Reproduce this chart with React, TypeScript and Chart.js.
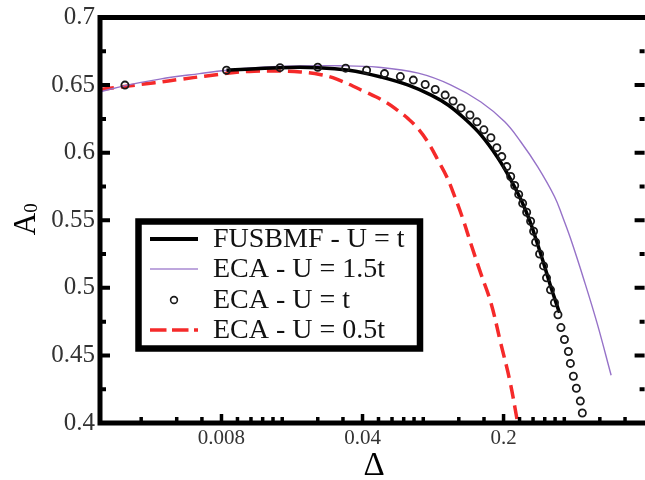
import React, { useEffect, useRef } from 'react';
import { Chart, registerables } from 'chart.js';

Chart.register(...registerables);

// ---- data ----
const fusbmfX = [0.00847, 0.0156, 0.024, 0.0342, 0.0497, 0.0675, 0.0876, 0.1062, 0.1288, 0.1545, 0.1873, 0.217, 0.2459, 0.2723, 0.2915, 0.3157, 0.3417, 0.3784];
const fusbmfY = [0.661, 0.6629, 0.6629, 0.661, 0.6559, 0.65, 0.6426, 0.6353, 0.625, 0.6132, 0.5963, 0.5801, 0.564, 0.5478, 0.5346, 0.5184, 0.5015, 0.4816];

const eca15X = [0.002, 0.00266, 0.00396, 0.00623, 0.00847, 0.0123, 0.0194, 0.0305, 0.048, 0.0756, 0.1099, 0.1545, 0.2027, 0.2432, 0.2949, 0.3575, 0.3915, 0.4288, 0.5025, 0.5824, 0.6825];
const eca15Y = [0.6449, 0.6496, 0.6544, 0.6585, 0.661, 0.663, 0.6641, 0.6643, 0.6632, 0.6588, 0.65, 0.6375, 0.6228, 0.6081, 0.5897, 0.5676, 0.5529, 0.5368, 0.5051, 0.4735, 0.4353];

const eca1X = [0.00266, 0.00847, 0.0156, 0.024, 0.033, 0.0419, 0.0514, 0.0616, 0.0714, 0.0818, 0.0917, 0.1027, 0.1124, 0.1231, 0.1363, 0.1476, 0.1598, 0.1731, 0.1852, 0.196, 0.2074, 0.217, 0.2271, 0.2377, 0.2487, 0.2603, 0.2723, 0.2818, 0.2883, 0.3017, 0.3157, 0.3265, 0.3417, 0.3575, 0.3721, 0.385, 0.4006, 0.4191, 0.4288, 0.4436, 0.459, 0.4802, 0.4913];
const eca1Y = [0.65, 0.661, 0.6629, 0.6632, 0.6625, 0.661, 0.6585, 0.6563, 0.6537, 0.6504, 0.6467, 0.6426, 0.6382, 0.6331, 0.6279, 0.6228, 0.6169, 0.611, 0.6037, 0.5971, 0.5897, 0.5824, 0.5757, 0.5691, 0.5625, 0.5559, 0.5493, 0.5419, 0.5338, 0.525, 0.5162, 0.5074, 0.4985, 0.489, 0.4801, 0.4706, 0.4618, 0.4529, 0.4441, 0.4346, 0.4257, 0.4162, 0.4074];

const eca05X = [0.002, 0.00275, 0.00374, 0.00508, 0.0066, 0.00927, 0.01163, 0.0158, 0.0198, 0.0249, 0.0298, 0.0414, 0.052, 0.0602, 0.0675, 0.0756, 0.0847, 0.0949, 0.105, 0.115, 0.1259, 0.1379, 0.1545, 0.1731, 0.1938, 0.2146, 0.235];
const eca05Y = [0.6467, 0.6493, 0.6518, 0.6544, 0.6566, 0.6593, 0.6603, 0.6604, 0.6597, 0.6577, 0.6544, 0.6449, 0.6375, 0.6309, 0.625, 0.6176, 0.6074, 0.5941, 0.5816, 0.5669, 0.5507, 0.5324, 0.5103, 0.489, 0.4588, 0.4316, 0.4];

const legendLabels = ['FUSBMF - U = t', 'ECA - U = 1.5t', 'ECA - U = t', 'ECA - U = 0.5t'];

const xTickLabels = [0.008, 0.04, 0.2];
const xMinorTicks = [0.0032, 0.0048, 0.0064, 0.0096, 0.0112, 0.0128, 0.0144, 0.016, 0.024, 0.032, 0.048, 0.056, 0.064, 0.072, 0.08, 0.12, 0.16, 0.24, 0.28, 0.32, 0.36, 0.4, 0.6, 0.8];
const yTickLabels = [0.4, 0.45, 0.5, 0.55, 0.6, 0.65, 0.7];
const yMinorTicks = [0.425, 0.475, 0.525, 0.575, 0.625, 0.675];

const X_MIN = 0.002;
const X_MAX = 1;
const Y_MIN = 0.4;
const Y_MAX = 0.7;

const SERIF = '"Liberation Serif", "Times New Roman", serif';
const BLACK = '#000000';
const PURPLE = '#9672c8';
const RED = '#f52a2a';
const CIRCLE = '#1a1a1a';

const framePlugin = {
  id: 'frame',
  afterDraw(chart: any) {
    const { ctx, chartArea: a, scales } = chart;
    const xs = scales.x;
    const ys = scales.y;
    ctx.save();
    ctx.strokeStyle = '#000';
    // spines
    ctx.lineWidth = 5;
    ctx.lineCap = 'square';
    ctx.beginPath();
    ctx.moveTo(a.left, a.top);
    ctx.lineTo(a.right + 10, a.top);
    ctx.moveTo(a.left, a.top);
    ctx.lineTo(a.left, a.bottom);
    ctx.moveTo(a.left, a.bottom);
    ctx.lineTo(a.right + 10, a.bottom);
    ctx.stroke();
    ctx.lineCap = 'butt';
    // y ticks (left & right, inward)
    ctx.lineWidth = 4;
    ctx.beginPath();
    for (const v of yTickLabels) {
      const p = ys.getPixelForValue(v);
      ctx.moveTo(a.left, p); ctx.lineTo(a.left + 10, p);
      ctx.moveTo(a.right, p); ctx.lineTo(a.right - 10, p);
    }
    for (const v of yMinorTicks) {
      const p = ys.getPixelForValue(v);
      ctx.moveTo(a.left, p); ctx.lineTo(a.left + 6, p);
      ctx.moveTo(a.right, p); ctx.lineTo(a.right - 5, p);
    }
    ctx.stroke();
    // x ticks (bottom, inward)
    ctx.lineWidth = 3.5;
    ctx.beginPath();
    for (const v of xTickLabels) {
      const p = xs.getPixelForValue(v);
      ctx.moveTo(p, a.bottom); ctx.lineTo(p, a.bottom - 9);
    }
    for (const v of xMinorTicks) {
      const p = xs.getPixelForValue(v);
      ctx.moveTo(p, a.bottom); ctx.lineTo(p, a.bottom - 6);
    }
    ctx.stroke();

    // axis titles
    ctx.fillStyle = '#000';
    ctx.font = `33px ${SERIF}`;
    ctx.textAlign = 'center';
    ctx.textBaseline = 'alphabetic';
    ctx.fillText('Δ', 374, 475);

    ctx.save();
    ctx.translate(35, 224);
    ctx.rotate(-Math.PI / 2);
    ctx.font = `31px ${SERIF}`;
    ctx.fillText('A', 0, 0);
    ctx.font = `19px ${SERIF}`;
    ctx.fillText('0', 16, 2);
    ctx.restore();

    // legend box
    ctx.fillStyle = '#fff';
    ctx.fillRect(138.5, 221.5, 281.5, 127);
    ctx.lineWidth = 6.5;
    ctx.strokeStyle = '#000';
    ctx.strokeRect(138.5, 221.5, 281.5, 127);

    const rows = [239, 269, 300, 330];
    ctx.lineCap = 'butt';
    ctx.strokeStyle = BLACK; ctx.lineWidth = 4;
    ctx.beginPath(); ctx.moveTo(150, rows[0]); ctx.lineTo(198, rows[0]); ctx.stroke();
    ctx.strokeStyle = '#a88ad2'; ctx.lineWidth = 1.6;
    ctx.beginPath(); ctx.moveTo(150, rows[1]); ctx.lineTo(198, rows[1]); ctx.stroke();
    ctx.strokeStyle = CIRCLE; ctx.lineWidth = 1.6;
    ctx.beginPath(); ctx.arc(174, rows[2], 3.4, 0, Math.PI * 2); ctx.stroke();
    ctx.strokeStyle = RED; ctx.lineWidth = 3.5;
    ctx.setLineDash([16.5, 5.5]);
    ctx.beginPath(); ctx.moveTo(150, rows[3]); ctx.lineTo(198, rows[3]); ctx.stroke();
    ctx.setLineDash([]);

    ctx.fillStyle = '#111';
    ctx.font = `28px ${SERIF}`;
    ctx.textAlign = 'left';
    ctx.textBaseline = 'middle';
    legendLabels.forEach((t, i) => ctx.fillText(t, 213, rows[i] + 1));
    ctx.restore();
  },
};

const toPts = (xs: number[], ys: number[]) => xs.map((x, i) => ({ x, y: ys[i] }));

export default function App() {
  const ref = useRef<HTMLCanvasElement>(null);

  useEffect(() => {
    if (!ref.current) return;
    const chart = new Chart(ref.current, {
      type: 'scatter',
      data: {
        datasets: [
          {
            label: legendLabels[2],
            data: toPts(eca1X, eca1Y),
            showLine: false,
            pointStyle: 'circle',
            pointRadius: 3.6,
            pointHoverRadius: 3.6,
            pointBorderWidth: 1.8,
            pointBorderColor: CIRCLE,
            pointBackgroundColor: 'rgba(0,0,0,0)',
            order: 0,
          },
          {
            label: legendLabels[0],
            data: toPts(fusbmfX, fusbmfY),
            showLine: true,
            borderColor: BLACK,
            borderWidth: 3.5,
            pointRadius: 0,
            pointHoverRadius: 0,
            tension: 0.4,
            order: 1,
          },
          {
            label: legendLabels[1],
            data: toPts(eca15X, eca15Y),
            showLine: true,
            borderColor: PURPLE,
            borderWidth: 1.4,
            pointRadius: 0,
            pointHoverRadius: 0,
            tension: 0.4,
            order: 2,
          },
          {
            label: legendLabels[3],
            data: toPts(eca05X, eca05Y),
            showLine: true,
            borderColor: RED,
            borderWidth: 3.5,
            borderDash: [14, 7],
            pointRadius: 0,
            pointHoverRadius: 0,
            tension: 0.4,
            order: 3,
          },
        ],
      },
      options: {
        responsive: false,
        animation: false,
        devicePixelRatio: 1,
        layout: { padding: { left: 0, right: 3, top: 15, bottom: 0 } },
        plugins: { legend: { display: false }, tooltip: { enabled: false } },
        scales: {
          x: {
            type: 'logarithmic',
            min: X_MIN,
            max: X_MAX,
            grid: { display: false, drawTicks: false },
            border: { display: false },
            afterFit: (s: any) => { s.height = 57; },
            afterBuildTicks: (s: any) => { s.ticks = xTickLabels.map((v) => ({ value: v })); },
            ticks: {
              autoSkip: false,
              maxRotation: 0,
              padding: 5,
              color: '#333',
              font: { family: SERIF, size: 21, lineHeight: 1 },
              callback: (v: any) => String(v),
            },
          },
          y: {
            type: 'linear',
            min: Y_MIN,
            max: Y_MAX,
            grid: { display: false, drawTicks: false },
            border: { display: false },
            afterFit: (s: any) => { s.width = 100; },
            afterBuildTicks: (s: any) => { s.ticks = yTickLabels.map((v) => ({ value: v })); },
            ticks: {
              autoSkip: false,
              padding: 5,
              color: '#333',
              font: { family: SERIF, size: 25, lineHeight: 1 },
              callback: (v: any) => String(v),
            },
          },
        },
      },
      plugins: [framePlugin],
    } as any);
    return () => chart.destroy();
  }, []);

  return (
    <div style={{ position: 'fixed', left: 0, top: 0, width: 645, height: 480, overflow: 'hidden', background: '#fff' }}>
      <canvas ref={ref} width={650} height={480} style={{ display: 'block' }} />
    </div>
  );
}
